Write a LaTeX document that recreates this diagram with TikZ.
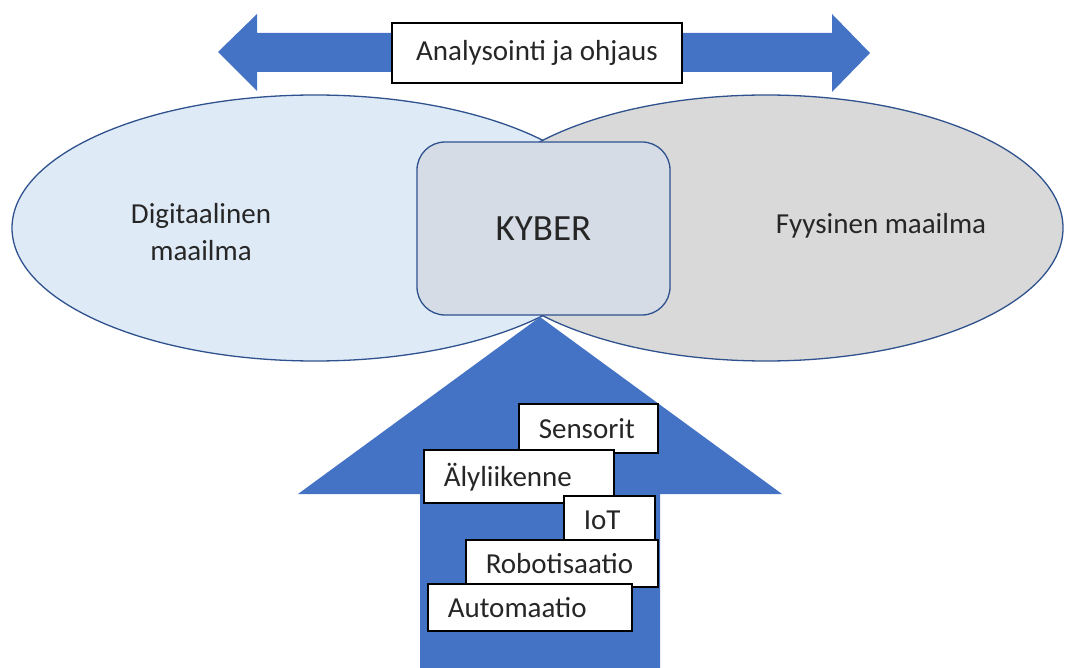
\documentclass[tikz,border=0pt]{standalone}
\usepackage{fontspec}
\setmainfont{Carlito}
\usetikzlibrary{shapes.geometric}
\definecolor{arrowblue}{HTML}{4472C4}
\definecolor{edgeblue}{HTML}{2F528F}
\definecolor{digifill}{HTML}{DEEBF7}
\definecolor{physfill}{HTML}{D9D9D9}
\definecolor{kyberfill}{HTML}{D6DCE5}
\begin{document}
\begin{tikzpicture}[x=1pt,y=-1pt,
  every node/.style={font=\fontsize{29}{37}\selectfont, text=black!85},
  world/.style={ellipse, draw=edgeblue, line width=1.3pt, inner sep=0pt, minimum width=#1, minimum height=266pt},
  tagbox/.style={draw=black, fill=white, line width=1.5pt, anchor=north west, inner xsep=20pt, inner ysep=0pt,
    align=left, text height=20pt, text depth=0pt},
  bigarrow/.style={fill=arrowblue}]
\useasboundingbox (0,0) rectangle (1065,668);
% worlds
\node[world=606pt, fill=digifill] (digi) at (315,228) {};
\node[world=594pt, fill=physfill] (phys) at (766,228) {};
\node[align=center] (digitext) at (201,232) {Digitaalinen\\maailma};
\node (phystext) at (881,226) {Fyysinen maailma};
% top double arrow
\fill[bigarrow] (218,52) -- (257,14) -- (257,33) -- (832,33) -- (832,14) -- (870,53)
  -- (832,92) -- (832,72) -- (257,72) -- (257,91) -- cycle;
\node[draw=black, fill=white, line width=1.5pt, minimum width=290pt, minimum height=60pt] (ctrl) at (537,53) {Analysointi ja ohjaus};
% up arrow
\fill[bigarrow] (420,668) -- (420,494) -- (298,494) -- (540,317) -- (782,494) -- (660,494) -- (660,668) -- cycle;
% kyber
\node[draw=edgeblue, line width=1.3pt, fill=kyberfill, rounded corners=28pt, minimum width=253pt, minimum height=173pt,
  font=\fontsize{37}{44}\selectfont] (kyber) at (543.5,228.5) {KYBER};
% tags
\node[tagbox, text width=99pt, minimum height=49pt] (sens) at (518,403) {Sensorit};
\node[tagbox, text width=150pt, minimum height=53pt] (aly) at (423,449) {Älyliikenne};
\node[tagbox, text width=51pt, minimum height=48pt] (iot) at (563,495) {IoT};
\node[tagbox, text width=152pt, minimum height=47pt] (robo) at (465,539) {Robotisaatio};
\node[tagbox, text width=164pt, minimum height=47pt] (auto) at (427,583) {Automaatio};
\end{tikzpicture}
\end{document}
